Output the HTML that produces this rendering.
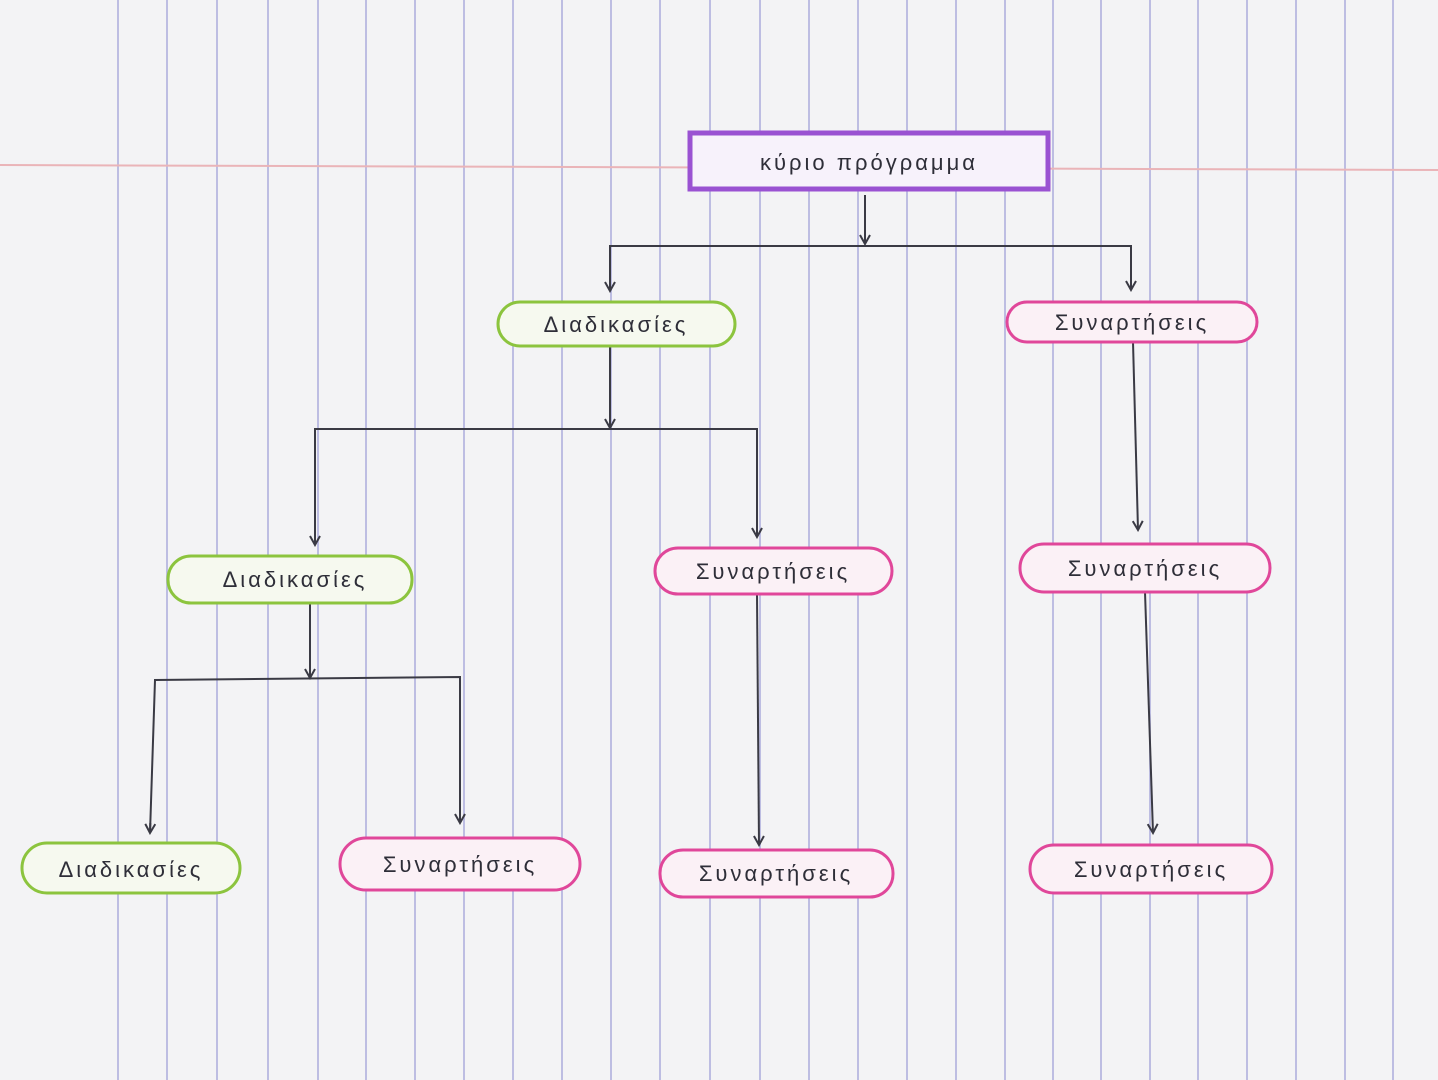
<!DOCTYPE html>
<html><head><meta charset="utf-8"><style>
html,body{margin:0;padding:0;}
body{width:1438px;height:1080px;overflow:hidden;background:#f3f3f5;position:relative;font-family:"Liberation Sans","DejaVu Sans",sans-serif;}
svg{position:absolute;left:0;top:0;}
</style></head><body>
<svg width="1438" height="1080" viewBox="0 0 1438 1080" xmlns="http://www.w3.org/2000/svg">
<defs>
<marker id="ar" markerWidth="12" markerHeight="12" refX="10" refY="6" orient="auto" markerUnits="userSpaceOnUse">
<path d="M1,1 L10,6 L1,11" fill="none" stroke="#3a3a44" stroke-width="2"/>
</marker>
</defs>
<rect width="1438" height="1080" fill="#f3f3f5"/>
<g stroke="#bdbde2" stroke-width="2">
<line x1="118" y1="0" x2="118" y2="1080"/><line x1="167" y1="0" x2="167" y2="1080"/>
<line x1="217" y1="0" x2="217" y2="1080"/><line x1="268" y1="0" x2="268" y2="1080"/>
<line x1="318" y1="0" x2="318" y2="1080"/><line x1="366" y1="0" x2="366" y2="1080"/>
<line x1="415" y1="0" x2="415" y2="1080"/><line x1="464" y1="0" x2="464" y2="1080"/>
<line x1="513" y1="0" x2="513" y2="1080"/><line x1="562" y1="0" x2="562" y2="1080"/>
<line x1="611" y1="0" x2="611" y2="1080"/><line x1="660" y1="0" x2="660" y2="1080"/>
<line x1="710" y1="0" x2="710" y2="1080"/><line x1="760" y1="0" x2="760" y2="1080"/>
<line x1="809" y1="0" x2="809" y2="1080"/><line x1="858" y1="0" x2="858" y2="1080"/>
<line x1="907" y1="0" x2="907" y2="1080"/><line x1="956" y1="0" x2="956" y2="1080"/>
<line x1="1005" y1="0" x2="1005" y2="1080"/><line x1="1053" y1="0" x2="1053" y2="1080"/>
<line x1="1101" y1="0" x2="1101" y2="1080"/><line x1="1150" y1="0" x2="1150" y2="1080"/>
<line x1="1198" y1="0" x2="1198" y2="1080"/><line x1="1247" y1="0" x2="1247" y2="1080"/>
<line x1="1296" y1="0" x2="1296" y2="1080"/><line x1="1345" y1="0" x2="1345" y2="1080"/>
<line x1="1393" y1="0" x2="1393" y2="1080"/>
</g>
<line x1="0" y1="165" x2="1438" y2="170" stroke="#eab4b8" stroke-width="2"/>

<g stroke="#3a3a44" stroke-width="2" fill="none">
<line x1="865" y1="195" x2="865" y2="244" marker-end="url(#ar)"/>
<polyline points="610,290 610,246 1131,246 1131,290"/>
<line x1="610" y1="280" x2="610" y2="291" marker-end="url(#ar)"/>
<line x1="1131" y1="280" x2="1131" y2="290" marker-end="url(#ar)"/>
<line x1="610" y1="346" x2="610" y2="428" marker-end="url(#ar)"/>
<polyline points="315,545 315,429 757,429 757,537"/>
<line x1="315" y1="535" x2="315" y2="545" marker-end="url(#ar)"/>
<line x1="757" y1="527" x2="757" y2="537" marker-end="url(#ar)"/>
<line x1="1133" y1="342" x2="1138" y2="530" marker-end="url(#ar)"/>
<line x1="310" y1="603" x2="310" y2="678" marker-end="url(#ar)"/>
<polyline points="150,833 155,680 460,677 460,823"/>
<line x1="150.3" y1="823" x2="150" y2="833" marker-end="url(#ar)"/>
<line x1="460" y1="813" x2="460" y2="823" marker-end="url(#ar)"/>
<line x1="757" y1="595" x2="759" y2="845" marker-end="url(#ar)"/>
<line x1="1145" y1="592" x2="1153" y2="833" marker-end="url(#ar)"/>
</g>

<rect x="690" y="133" width="358" height="56" fill="#f7f2fb" stroke="#9a52d2" stroke-width="5"/>

<g stroke-width="3">
<rect x="498" y="302" width="237" height="44" rx="22" fill="#f6f9ef" stroke="#8cc43e"/>
<rect x="1007" y="302" width="250" height="40" rx="20" fill="#fbf1f6" stroke="#e0479a"/>
<rect x="168" y="556" width="244" height="47" rx="23" fill="#f6f9ef" stroke="#8cc43e"/>
<rect x="655" y="548" width="237" height="46" rx="23" fill="#fbf1f6" stroke="#e0479a"/>
<rect x="1020" y="544" width="250" height="48" rx="24" fill="#fbf1f6" stroke="#e0479a"/>
<rect x="22" y="843" width="218" height="50" rx="25" fill="#f6f9ef" stroke="#8cc43e"/>
<rect x="340" y="838" width="240" height="52" rx="26" fill="#fbf1f6" stroke="#e0479a"/>
<rect x="660" y="850" width="233" height="47" rx="23" fill="#fbf1f6" stroke="#e0479a"/>
<rect x="1030" y="845" width="242" height="48" rx="24" fill="#fbf1f6" stroke="#e0479a"/>
</g>

<g font-family="Liberation Sans, DejaVu Sans, sans-serif" font-size="22" fill="#2e2e38" text-anchor="middle" letter-spacing="3">
<text x="869" y="170">κύριο   πρόγραμμα</text>
<text x="616" y="332">Διαδικασίες</text>
<text x="1132" y="330">Συναρτήσεις</text>
<text x="295" y="587">Διαδικασίες</text>
<text x="773" y="579">Συναρτήσεις</text>
<text x="1145" y="576">Συναρτήσεις</text>
<text x="131" y="877">Διαδικασίες</text>
<text x="460" y="872">Συναρτήσεις</text>
<text x="776" y="881">Συναρτήσεις</text>
<text x="1151" y="877">Συναρτήσεις</text>
</g>
</svg>
</body></html>
